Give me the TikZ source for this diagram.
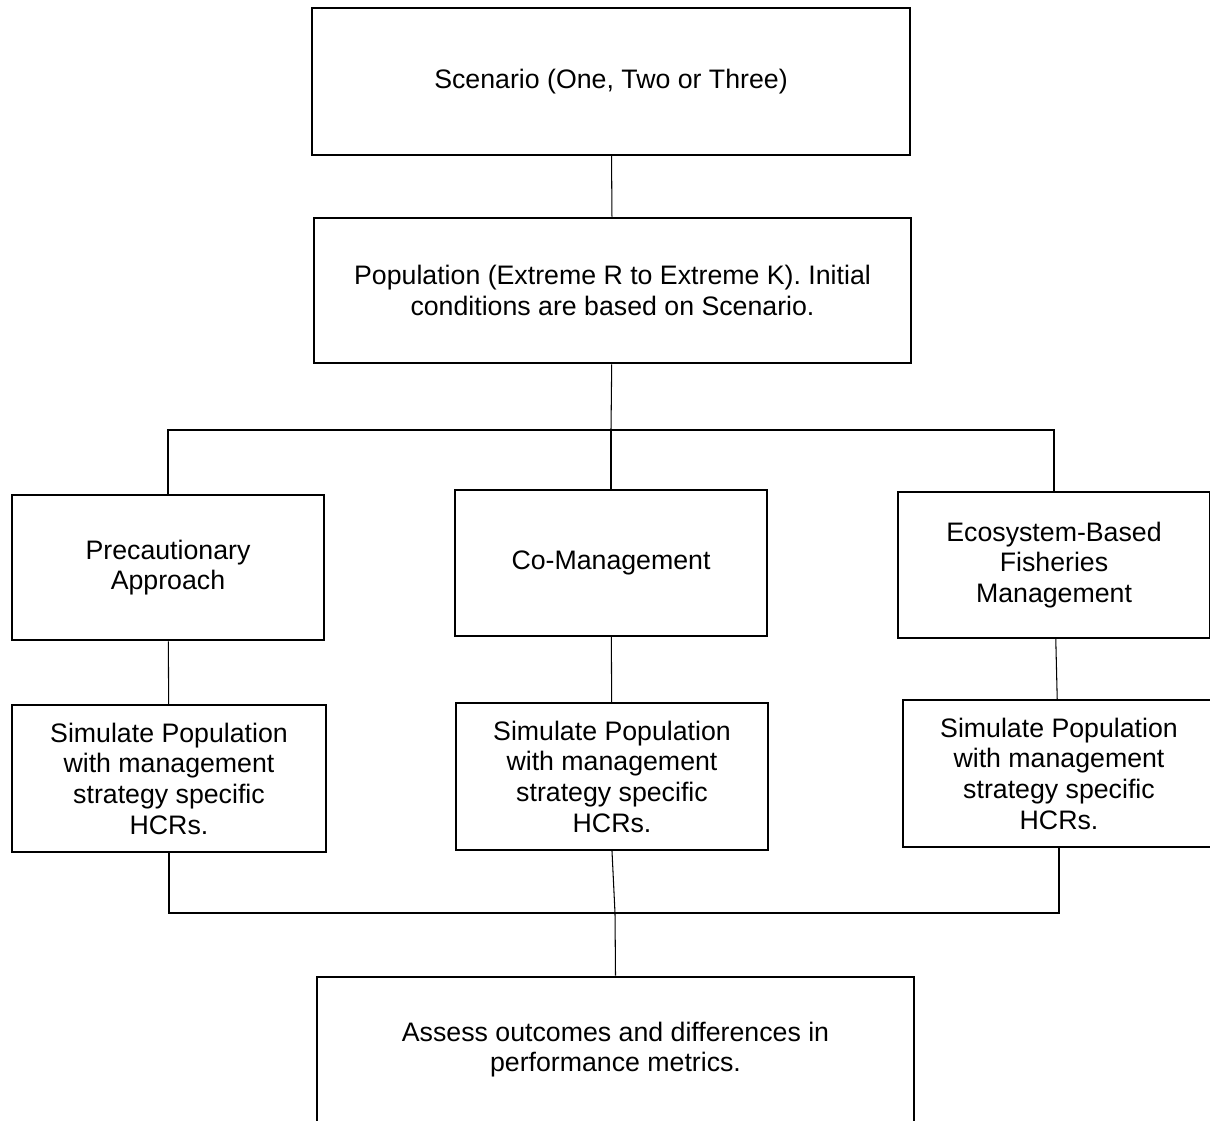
\documentclass[tikz,border=0pt]{standalone}
\usepackage{fontspec}
\setmainfont{Liberation Sans}
\usepackage{tikz}
\usetikzlibrary{positioning,calc}

\begin{document}
\begin{tikzpicture}[
    x=0.025cm,
    y=-0.025cm,
    font=\fontsize{19pt}{21.8pt}\selectfont,
    widebox/.style={draw=black, line width=1.5pt, fill=white, minimum width=14.93cm, minimum height=3.64cm, align=center, inner sep=0pt},
    stratbox/.style={draw=black, line width=1.5pt, fill=white, minimum width=7.8cm, minimum height=3.64cm, align=center, inner sep=0pt},
    link/.style={draw=black, line width=0.75pt}
]

\clip (0,0) rectangle (1210,1120);
\fill[white] (0,0) rectangle (1210,1120);

% Top boxes.
\node[widebox, minimum height=3.675cm] (scenario) at (611, 81.5) {Scenario (One, Two or Three)};
\node[widebox] (population) at (612.5, 290.5) {Population (Extreme R to Extreme K). Initial\\conditions are based on Scenario.};

% Management strategies.
\node[stratbox] (precaution) at (168, 567.5) {Precautionary\\Approach};
\node[stratbox] (comanage) at (611, 563) {Co-Management};
\node[stratbox] (ebfm) at (1054, 565) {Ecosystem-Based\\Fisheries\\Management};

% Simulations.
\node[stratbox, minimum width=7.85cm, minimum height=3.675cm] (sim_pa) at (169, 778.5) {Simulate Population\\with management\\strategy specific\\HCRs.};
\node[stratbox, minimum height=3.675cm] (sim_cm) at (612, 776.5) {Simulate Population\\with management\\strategy specific\\HCRs.};
\node[stratbox, minimum height=3.675cm] (sim_eb) at (1059, 773.5) {Simulate Population\\with management\\strategy specific\\HCRs.};

% Final assessment.
\node[widebox] (assess) at (615.5, 1049.5) {Assess outcomes and differences in\\performance metrics.};

% Junctions.
\coordinate (split) at (611, 430);
\coordinate (merge) at (615, 913);

% Connectors.
\draw[link] (scenario) -- (population);
\draw[link] (population) -- (split);
\draw[link] (precaution.north) |- (split) -| (ebfm.north);
\draw[link] (split) -- (comanage.north);

\draw[link] (precaution) -- (sim_pa);
\draw[link] (comanage) -- (sim_cm);
\draw[link] (ebfm) -- (sim_eb);

\draw[link] (sim_pa.south) |- (merge) -| (sim_eb.south);
\draw[link] (sim_cm.south) -- (merge);
\draw[link] (merge) -- (assess.north);

\end{tikzpicture}
\end{document}
